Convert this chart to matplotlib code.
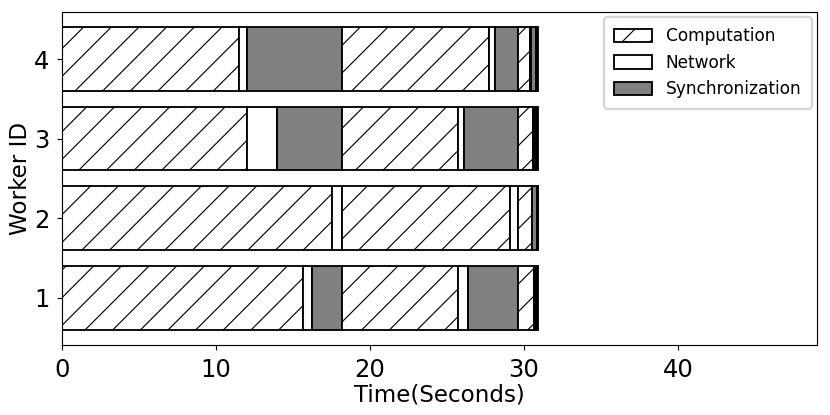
import matplotlib
matplotlib.use('Agg')
import matplotlib.pyplot as plt
import numpy as np

plt.rcParams['hatch.linewidth'] = 0.5

workers = [1, 2, 3, 4]
# durations per cycle (4 cycles), one row per worker
computation = np.array([
    [15.67, 7.54, 1.05, 0.03],
    [17.50, 10.91, 0.90, 0.03],
    [12.03, 7.57, 0.98, 0.03],
    [11.50, 9.55, 0.78, 0.03],
])
network = np.array([
    [0.59, 0.65, 0.03, 0.03],
    [0.65, 0.54, 0.02, 0.03],
    [1.91, 0.39, 0.04, 0.03],
    [0.50, 0.42, 0.12, 0.03],
])
synchronization = np.array([
    [1.89, 3.26, 0.10, 0.05],
    [0.00, 0.00, 0.30, 0.05],
    [4.21, 3.52, 0.15, 0.05],
    [6.17, 1.44, 0.32, 0.05],
])

styles = {
    'Computation': dict(color='white', hatch='//'),
    'Network': dict(color='white', hatch=''),
    'Synchronization': dict(color='gray', hatch=''),
}

fig, ax = plt.subplots(figsize=(5, 2.5), dpi=166)
fig.subplots_adjust(left=0.0747, right=0.984, top=0.971, bottom=0.169)

seen = set()
for i, w in enumerate(workers):
    left = 0.0
    for c in range(computation.shape[1]):
        for name, vals in (('Computation', computation),
                           ('Network', network),
                           ('Synchronization', synchronization)):
            d = vals[i, c]
            if d <= 0:
                continue
            label = name if name not in seen else None
            seen.add(name)
            ax.barh(w, d, left=left, height=0.8, color=styles[name]['color'],
                    hatch=styles[name]['hatch'], edgecolor='black',
                    linewidth=0.8, label=label)
            left += d

ax.set_xlim(0, 49)
ax.set_xticks([0, 10, 20, 30, 40])
ax.set_yticks(workers)
ax.tick_params(labelsize=10.5, length=2, width=0.5)
ax.set_xlabel('Time(Seconds)', fontsize=10, labelpad=1)
ax.set_ylabel('Worker ID', fontsize=10, labelpad=1)
for s in ax.spines.values():
    s.set_linewidth(0.5)

ax.legend(loc='upper right', fontsize=7.4, handlelength=2.2,
          handleheight=0.8, borderpad=0.6, borderaxespad=0.3)

plt.savefig('out.png', dpi=166)
